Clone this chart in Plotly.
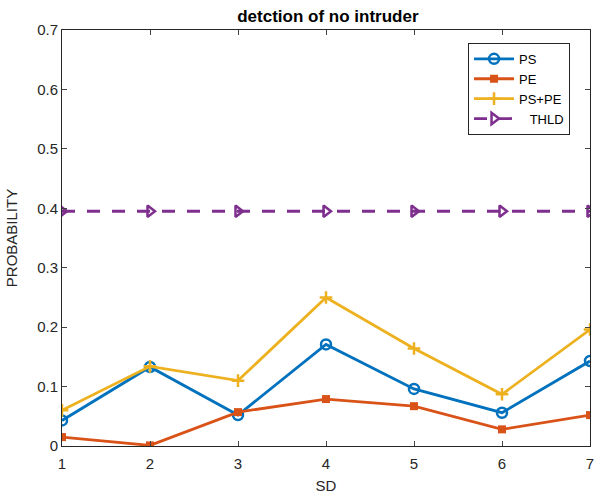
import plotly.graph_objects as go

sd = [1, 2, 3, 4, 5, 6, 7]
ps = [0.043, 0.133, 0.052, 0.171, 0.096, 0.056, 0.143]
pe = [0.015, 0.001, 0.057, 0.079, 0.067, 0.028, 0.052]
ps_pe = [0.060, 0.134, 0.110, 0.250, 0.164, 0.087, 0.196]
thld = [0.395] * 7

x_ticks = [1, 2, 3, 4, 5, 6, 7]
y_ticks = [0, 0.1, 0.2, 0.3, 0.4, 0.5, 0.6, 0.7]
y_tick_text = ["0", "0.1", "0.2", "0.3", "0.4", "0.5", "0.6", "0.7"]

FONT = "Liberation Sans, Arial, Helvetica, sans-serif"
TXT = "#262626"
AX = "#262626"

fig = go.Figure()
fig.add_trace(go.Scatter(x=sd, y=ps, name="PS", mode="lines+markers",
                         line=dict(color="#0072BD", width=2.8),
                         marker=dict(symbol="circle-open", size=10, color="#0072BD",
                                     line=dict(width=2.5, color="#0072BD"))))
fig.add_trace(go.Scatter(x=sd, y=pe, name="PE", mode="lines+markers",
                         line=dict(color="#D95319", width=2.8),
                         marker=dict(symbol="square", size=8, color="#D95319")))
fig.add_trace(go.Scatter(x=sd, y=ps_pe, name="PS+PE", mode="lines+markers",
                         line=dict(color="#EDB120", width=2.8),
                         marker=dict(symbol="cross-thin", size=9, color="#EDB120",
                                     line=dict(width=2.5, color="#EDB120"))))
fig.add_trace(go.Scatter(x=sd, y=thld, name="   THLD", mode="lines+markers",
                         line=dict(color="#7E2F8E", width=2.8, dash="13px,12px"),
                         marker=dict(symbol="triangle-right-open", size=10, color="#7E2F8E",
                                     line=dict(width=2.5, color="#7E2F8E"))))

fig.update_layout(
    width=594, height=499,
    margin=dict(l=62, r=4, t=30, b=53),
    paper_bgcolor="white", plot_bgcolor="white",
    font=dict(family=FONT, size=15, color=TXT),
    title=dict(text="<b>detction of no intruder</b>", x=0.552, xanchor="center",
               y=0.968, yanchor="middle", font=dict(size=17, color="black")),
    showlegend=True,
    legend=dict(x=0.769, y=0.969, xanchor="left", yanchor="top",
                bgcolor="white", bordercolor=AX, borderwidth=1,
                font=dict(size=13, color="black"), tracegroupgap=0,
                itemwidth=40),
)
fig.update_xaxes(range=[1, 7], tickvals=x_ticks, ticks="inside", ticklen=5,
                 ticklabelstandoff=4, ticklabeloverflow="allow", automargin=False,
                 showline=True, linecolor=AX, linewidth=1, mirror="allticks",
                 showgrid=False, zeroline=False,
                 title=dict(text="SD", font=dict(size=15), standoff=9))
fig.update_yaxes(range=[0, 0.7], tickvals=y_ticks, ticktext=y_tick_text,
                 ticks="inside", ticklen=5, automargin=False,
                 showline=True, linecolor=AX, linewidth=1, mirror="allticks",
                 showgrid=False, zeroline=False,
                 title=dict(text="PROBABILITY", font=dict(size=15), standoff=15))

fig.write_html("out.html",
               config={"displayModeBar": False},
               post_script="document.body.style.margin='0';document.body.style.overflow='hidden';")
